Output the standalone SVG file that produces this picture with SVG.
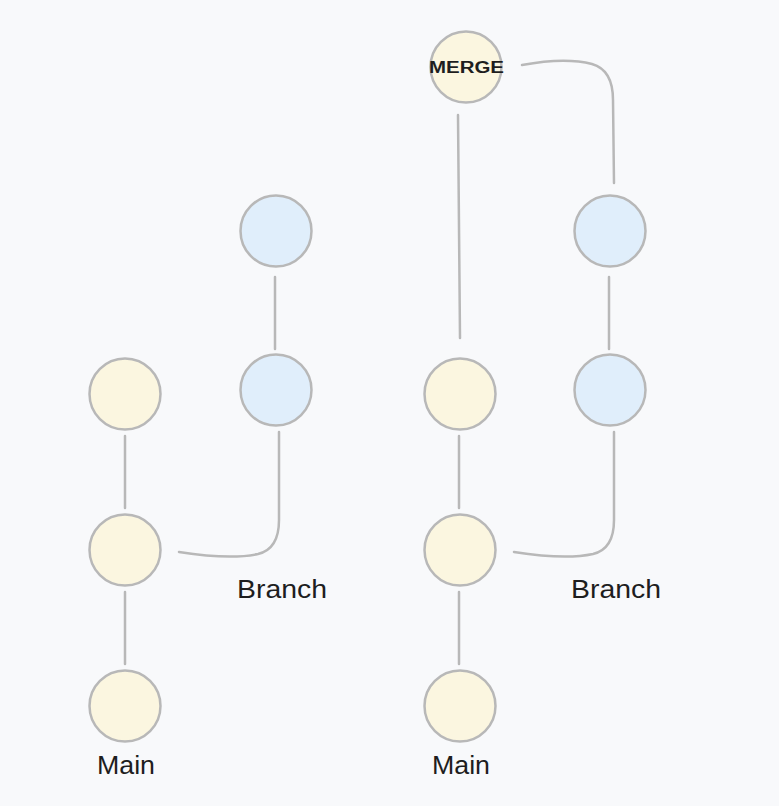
<svg xmlns="http://www.w3.org/2000/svg" width="779" height="806" viewBox="0 0 779 806">
<style>
.main{fill:#fbf6e0;stroke:#b8b8b8;stroke-width:2.5}
.br{fill:#e0eefb;stroke:#b8b8b8;stroke-width:2.5}
.c{fill:none;stroke:#b8b8b8;stroke-width:2.5;stroke-linecap:round}
.lbl{font-family:"Liberation Sans",sans-serif;font-size:25px;fill:#1e1e1e}
</style>
<rect width="779" height="806" fill="#f8f9fb"/>
<g id="connectors">
<path class="c" d="M125,436 L125,508"/>
<path class="c" d="M125,592 L125,664"/>
<path class="c" d="M275,277 L275,349"/>
<path class="c" d="M179,552 Q230,560 258,554 Q279,549 279,520 L279,432"/>
<path class="c" d="M459,436 L459,508"/>
<path class="c" d="M459,592 L459,664"/>
<path class="c" d="M609,277 L609,349"/>
<path class="c" d="M514,552 Q565,560 593,554 Q614,549 614,520 L614,432"/>
<path class="c" d="M458,115 L460,338"/>
<path class="c" d="M522,65 Q565,57 592,64 Q613,70 613,100 L614,183"/>
</g>
<g id="m1"><circle class="main" cx="125" cy="394" r="35.5"/></g>
<g id="m2"><circle class="main" cx="125" cy="550" r="35.5"/></g>
<g id="m3"><circle class="main" cx="125" cy="706" r="35.5"/></g>
<g id="b1"><circle class="br" cx="276" cy="231" r="35.5"/></g>
<g id="b2"><circle class="br" cx="276" cy="390" r="35.5"/></g>
<g id="m4"><circle class="main" cx="460" cy="394" r="35.5"/></g>
<g id="m5"><circle class="main" cx="460" cy="550" r="35.5"/></g>
<g id="m6"><circle class="main" cx="460" cy="706" r="35.5"/></g>
<g id="b3"><circle class="br" cx="610" cy="231" r="35.5"/></g>
<g id="b4"><circle class="br" cx="610" cy="390" r="35.5"/></g>
<g id="merge"><circle class="main" cx="466" cy="67" r="35.5"/>
<text x="429" y="73" textLength="75" lengthAdjust="spacingAndGlyphs" font-family="Liberation Sans, sans-serif" font-size="16" font-weight="bold" fill="#1e1e1e">MERGE</text></g>
<g id="labels">
<text class="lbl" x="237" y="598" textLength="90" lengthAdjust="spacingAndGlyphs">Branch</text>
<text class="lbl" x="571" y="598" textLength="90" lengthAdjust="spacingAndGlyphs">Branch</text>
<text class="lbl" x="97" y="774" textLength="58" lengthAdjust="spacingAndGlyphs">Main</text>
<text class="lbl" x="432" y="774" textLength="58" lengthAdjust="spacingAndGlyphs">Main</text>
</g>
</svg>
